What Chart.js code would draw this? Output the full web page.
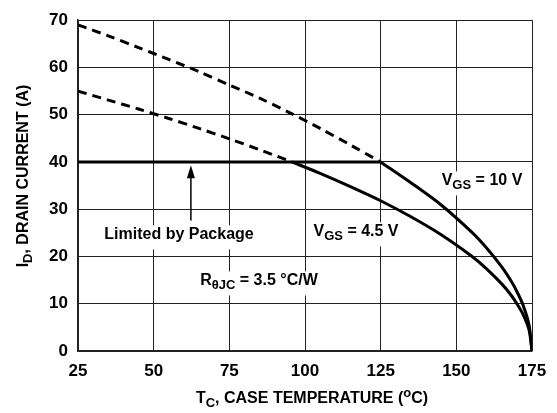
<!DOCTYPE html>
<html>
<head>
<meta charset="utf-8">
<script src="https://cdn.jsdelivr.net/npm/chart.js@4.4.0/dist/chart.umd.min.js"></script>
<style>
  html, body { margin: 0; padding: 0; background: #fff; }
  #wrap { width: 557px; height: 413px; }
</style>
</head>
<body>
<div id="wrap"><canvas id="myChart" width="557" height="413"></canvas></div>
<script>
// values
const xTicks = [25, 50, 75, 100, 125, 150, 175]
const yTicks = [0, 10, 20, 30, 40, 50, 60, 70]

// package limit line
const pkgTemp = [25, 125]
const pkgCurrent = [40, 40]

// VGS = 10 V, dashed part (above package limit) and solid part
const dash10Temp = [25, 35, 45, 55, 65, 75, 85, 95, 105, 115, 125]
const dash10Current = [69.0, 66.7, 64.2, 61.7, 59.1, 56.3, 53.5, 50.4, 47.1, 43.6, 40.0]
const solid10Temp = [125, 135, 145, 155, 160, 165, 168, 170, 172, 174, 175]
const solid10Current = [40.0, 35.6, 30.9, 25.2, 21.8, 17.8, 14.9, 12.6, 9.8, 5.6, 0]

// VGS = 4.5 V
const dash45Temp = [25, 35, 45, 55, 65, 75, 85, 95.7]
const dash45Current = [55.0, 53.1, 51.2, 49.2, 47.1, 44.9, 42.6, 40.0]
const solid45Temp = [95.7, 105, 115, 125, 135, 145, 155, 160, 165, 168, 170, 172, 174, 175]
const solid45Current = [40.0, 37.6, 34.8, 31.8, 28.4, 24.6, 20.1, 17.4, 14.2, 11.9, 10.0, 7.8, 4.5, 0]

const FONT = '"Liberation Sans", Arial, sans-serif'

function pts(xs, ys) {
  return xs.map((x, i) => ({ x: x, y: ys[i] }))
}

function lineSet(xs, ys, dashed) {
  return {
    data: pts(xs, ys),
    borderColor: '#000',
    borderWidth: 3,
    borderDash: dashed ? [9, 6] : [],
    pointRadius: 0,
    tension: 0.3,
    fill: false
  }
}

// draws text made of pieces: [text, 'n' | 'sub' | 'sup']
function richText(ctx, parts, x, y, size, align) {
  const big = 'bold ' + size + 'px ' + FONT
  const small = 'bold ' + Math.round(size * 0.8) + 'px ' + FONT
  let total = 0
  parts.forEach(p => {
    ctx.font = p[1] === 'n' ? big : small
    total += ctx.measureText(p[0]).width
  })
  let cx = align === 'center' ? x - total / 2 : x
  ctx.textAlign = 'left'
  ctx.textBaseline = 'middle'
  parts.forEach(p => {
    ctx.font = p[1] === 'n' ? big : small
    let dy = 0
    if (p[1] === 'sub') dy = size * 0.3
    if (p[1] === 'sup') dy = -size * 0.35
    ctx.fillText(p[0], cx, y + dy)
    cx += ctx.measureText(p[0]).width
  })
  return total
}

function label(ctx, parts, x, y, size) {
  const big = 'bold ' + size + 'px ' + FONT
  const small = 'bold ' + Math.round(size * 0.8) + 'px ' + FONT
  let total = 0
  parts.forEach(p => {
    ctx.font = p[1] === 'n' ? big : small
    total += ctx.measureText(p[0]).width
  })
  ctx.fillStyle = '#fff'
  ctx.fillRect(x - total / 2 - 4, y - size * 0.6, total + 8, size * 1.5)
  ctx.fillStyle = '#000'
  richText(ctx, parts, x, y, size, 'center')
}

const notes = {
  id: 'notes',
  afterDatasetsDraw(chart) {
    const ctx = chart.ctx
    const xs = chart.scales.x, ys = chart.scales.y
    ctx.save()
    label(ctx, [['Limited by Package', 'n']], 179, 235, 16)
    label(ctx, [['V', 'n'], ['GS', 'sub'], [' = 10 V', 'n']], 482, 181, 16)
    label(ctx, [['V', 'n'], ['GS', 'sub'], [' = 4.5 V', 'n']], 356, 232, 16)
    label(ctx, [['R', 'n'], ['\u03b8JC', 'sub'], [' = 3.5 \u00b0C/W', 'n']], 259, 281, 16)

    // arrow pointing up to the package limit
    const ax = xs.getPixelForValue(62.3)
    const yBot = ys.getPixelForValue(27.6)
    const yTip = ys.getPixelForValue(39.3)
    ctx.strokeStyle = '#000'
    ctx.lineWidth = 1.5
    ctx.beginPath()
    ctx.moveTo(ax, yBot)
    ctx.lineTo(ax, yTip + 10)
    ctx.stroke()
    ctx.fillStyle = '#000'
    ctx.beginPath()
    ctx.moveTo(ax, yTip)
    ctx.lineTo(ax - 4, yTip + 13)
    ctx.lineTo(ax + 4, yTip + 13)
    ctx.closePath()
    ctx.fill()

    // axis titles
    richText(ctx, [['T', 'n'], ['C', 'sub'], [', CASE TEMPERATURE (', 'n'], ['o', 'sup'], ['C)', 'n']], 312, 399, 16, 'center')
    ctx.translate(24, 176)
    ctx.rotate(-Math.PI / 2)
    richText(ctx, [['I', 'n'], ['D', 'sub'], [', DRAIN CURRENT (A)', 'n']], 0, 0, 16, 'center')
    ctx.restore()
  }
}

const ctx = document.getElementById('myChart').getContext('2d')
const chart = new Chart(ctx, {
  type: 'line',
  data: {
    datasets: [
      lineSet(dash10Temp, dash10Current, true),
      lineSet(dash45Temp, dash45Current, true),
      lineSet(pkgTemp, pkgCurrent, false),
      lineSet(solid10Temp, solid10Current, false),
      lineSet(solid45Temp, solid45Current, false)
    ]
  },
  plugins: [notes, {
    id: 'bg',
    beforeDraw(c) {
      c.ctx.save()
      c.ctx.fillStyle = '#fff'
      c.ctx.fillRect(0, 0, c.width, c.height)
      c.ctx.restore()
    }
  }],
  options: {
    responsive: false,
    animation: false,
    layout: { padding: { left: 0, right: 25, top: 18, bottom: 0 } },
    plugins: { legend: { display: false }, tooltip: { enabled: false } },
    scales: {
      x: {
        type: 'linear',
        min: 25, max: 175,
        afterBuildTicks: s => { s.ticks = xTicks.map(v => ({ value: v })) },
        afterFit: s => { s.height = 62 },
        grid: { color: '#222', lineWidth: 1, drawTicks: false },
        border: { color: '#222', width: 1.5 },
        ticks: { color: '#000', padding: 10, font: { family: FONT, size: 17, weight: 'bold' } }
      },
      y: {
        min: 0, max: 70,
        afterBuildTicks: s => { s.ticks = yTicks.map(v => ({ value: v })) },
        afterFit: s => { s.width = 78 },
        grid: { color: '#222', lineWidth: 1, drawTicks: false },
        border: { color: '#222', width: 1.5 },
        ticks: { color: '#000', padding: 10, font: { family: FONT, size: 17, weight: 'bold' } }
      }
    }
  }
})
</script>
</body>
</html>
